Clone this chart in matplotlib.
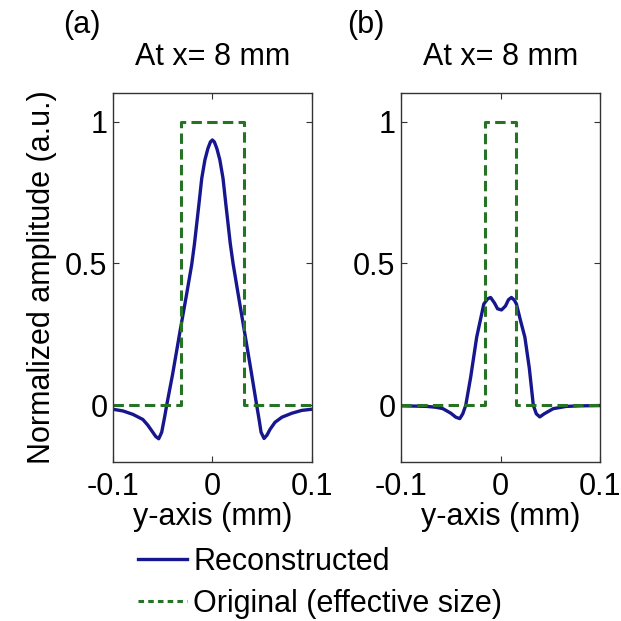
import numpy as np
import matplotlib
matplotlib.use("Agg")
import matplotlib.pyplot as plt

plt.rcParams['font.family'] = ['Liberation Sans', 'DejaVu Sans']
plt.rcParams['lines.scale_dashes'] = False

# panel (a): lateral profile at x = 8 mm
y_pos_a = [-0.1, -0.09, -0.08, -0.07, -0.065, -0.06, -0.057, -0.054, -0.051,
           -0.048, -0.046, -0.04, -0.0325, -0.0265, -0.0208, -0.018, -0.0135,
           -0.0107, -0.0075, -0.0045, -0.002, 0.0, 0.002, 0.0045, 0.0075,
           0.0107, 0.0135, 0.018, 0.0208, 0.0265, 0.0318, 0.039, 0.0446,
           0.047, 0.049, 0.052, 0.055, 0.058, 0.063, 0.07, 0.08, 0.09, 0.1]
amp_a = [-0.014, -0.02, -0.032, -0.05, -0.07, -0.095, -0.11, -0.118, -0.095,
         -0.04, 0.0, 0.11, 0.262, 0.38, 0.496, 0.57, 0.71,
         0.8, 0.865, 0.905, 0.928, 0.935, 0.928, 0.905, 0.865,
         0.8, 0.71, 0.57, 0.5, 0.38, 0.27, 0.12, 0.0,
         -0.05, -0.095, -0.117, -0.105, -0.085, -0.06, -0.042, -0.028, -0.018,
         -0.014]
orig_pos_a = [-0.1, -0.032, -0.032, 0.032, 0.032, 0.1]
orig_amp_a = [0, 0, 1, 1, 0, 0]

# panel (b)
y_pos_b = [-0.1, -0.085, -0.074, -0.065, -0.058, -0.05, -0.045, -0.041,
           -0.038, -0.035, -0.03, -0.024, -0.0168, -0.013, -0.010, -0.006,
           -0.003, 0.001, 0.005, 0.008, 0.011, 0.014, 0.016, 0.02, 0.0245,
           0.029, 0.033, 0.036, 0.0395, 0.044, 0.053, 0.066, 0.08, 0.1]
amp_b = [-0.002, -0.003, -0.004, -0.007, -0.012, -0.028, -0.042, -0.047,
         -0.03, 0.0, 0.1, 0.24, 0.357, 0.375, 0.38, 0.36,
         0.34, 0.336, 0.35, 0.372, 0.38, 0.37, 0.357, 0.3, 0.24,
         0.13, 0.0, -0.03, -0.041, -0.03, -0.012, -0.004, -0.002, -0.001]
orig_pos_b = [-0.1, -0.016, -0.016, 0.016, 0.016, 0.1]
orig_amp_b = [0, 0, 1, 1, 0, 0]

panel_tags = ['(a)', '(b)']
panel_titles = ['At x= 8 mm', 'At x= 8 mm']
x_ticks = [-0.1, 0, 0.1]
x_ticklabels = ['-0.1', '0', '0.1']
y_ticks = [0, 0.5, 1]
y_ticklabels = ['0', '0.5', '1']

blue = '#16168f'
green = '#267326'
fs = 22

fig = plt.figure(figsize=(6.21, 6.21), dpi=100)
ax_a = fig.add_axes([0.182, 0.256, 0.320, 0.594])
ax_b = fig.add_axes([0.646, 0.256, 0.320, 0.594])

data = [(y_pos_a, amp_a, orig_pos_a, orig_amp_a),
        (y_pos_b, amp_b, orig_pos_b, orig_amp_b)]

handles = None
for ax, (yp, amp, op, oa), tag, title in zip([ax_a, ax_b], data,
                                             panel_tags, panel_titles):
    l1, = ax.plot(yp, amp, color=blue, lw=2.4, label='Reconstructed')
    l2, = ax.plot(op, oa, color=green, lw=2.2, dashes=(7.5, 3.8),
                  label='Original (effective size)')
    if handles is None:
        handles = [l1, l2]
    ax.set_xlim(-0.1, 0.1)
    ax.set_ylim(-0.2, 1.1)
    ax.set_xticks(x_ticks)
    ax.set_xticklabels(x_ticklabels, fontsize=fs)
    ax.set_yticks(y_ticks)
    ax.set_yticklabels(y_ticklabels, fontsize=fs)
    ax.tick_params(direction='in', top=True, right=True, length=4,
                   width=0.8, color='#333333')
    ax.tick_params(axis='x', pad=7)
    ax.tick_params(axis='y', pad=4)
    for sp in ax.spines.values():
        sp.set_linewidth(1.0)
        sp.set_color('#333333')
    ax.set_xlabel('y-axis (mm)', fontsize=fs, labelpad=0)
    ax.text(0.5, 1.075, title, transform=ax.transAxes, ha='center',
            va='baseline', fontsize=fs)

ax_a.set_ylabel('Normalized amplitude (a.u.)', fontsize=fs, labelpad=6)

fig.text(82 / 621, 1 - 25 / 621, panel_tags[0], ha='center', va='center',
         fontsize=fs)
fig.text(366 / 621, 1 - 25 / 621, panel_tags[1], ha='center', va='center',
         fontsize=fs)

leg = fig.legend(handles=handles, loc='upper left',
                 bbox_to_anchor=(138 / 621, 1 - 547 / 621), frameon=False,
                 fontsize=fs, handlelength=1.6, handletextpad=0.2,
                 labelspacing=0.38, borderpad=0, borderaxespad=0)
leg.get_lines()[1].set_dashes((4, 3))

fig.savefig('out.png', dpi=100)
